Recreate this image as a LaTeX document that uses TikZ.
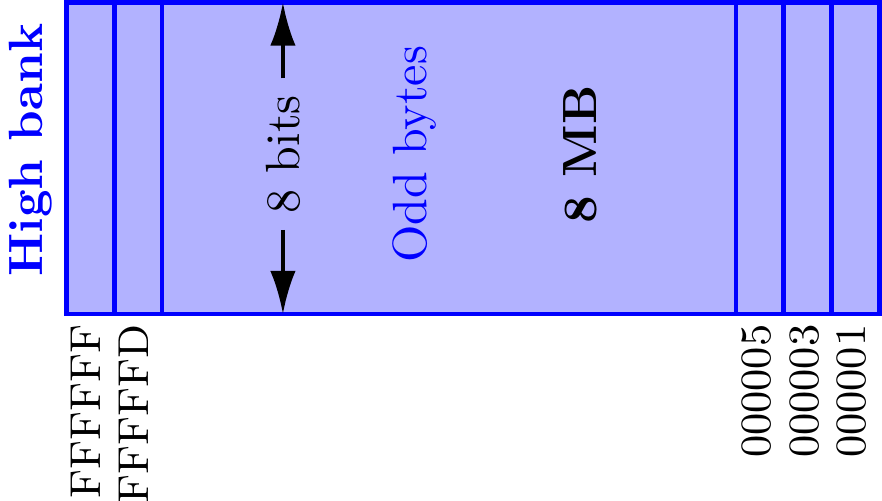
\documentclass[tikz,border=0pt]{standalone}
\usetikzlibrary{arrows.meta}

\tikzset{
  bank/.style={draw=blue,line width=1pt,fill=blue!30},
  addr/.style={rotate=90,anchor=mid east,inner sep=2pt,font=\small},
}

\begin{document}
\begin{tikzpicture}
\useasboundingbox (-0.485,-1.366) rectangle (5.968,2.298);
\draw[bank] (0,0) rectangle (5.95,2.28);
\foreach \x in {0.35,0.7,4.9,5.25,5.6}
  \draw[blue,line width=1pt] (\x,0) -- (\x,2.28);
\node[addr] (a0) at (0.175,0) {FFFFFF};
\node[addr] (a1) at (0.525,0) {FFFFFD};
\node[addr] (a2) at (5.075,0) {000005};
\node[addr] (a3) at (5.425,0) {000003};
\node[addr] (a4) at (5.775,0) {000001};
\node[rotate=90,anchor=base,blue,font=\bfseries] (hb) at (-0.172,1.2) {High bank};
\node[rotate=90] (bits) at (1.585,1.17) {8 bits};
\coordinate (btop) at (1.585,2.28);
\coordinate (bbot) at (1.585,0);
\draw[thick,-{Latex[length=9pt,width=5.3pt]}] (bits.east) -- (btop);
\draw[thick,-{Latex[length=9pt,width=5.3pt]}] (bits.west) -- (bbot);
\node[rotate=90,blue] (odd) at (2.55,1.17) {Odd bytes};
\node[rotate=90,font=\bfseries] (mb) at (3.76,1.17) {8 MB};
\end{tikzpicture}
\end{document}
